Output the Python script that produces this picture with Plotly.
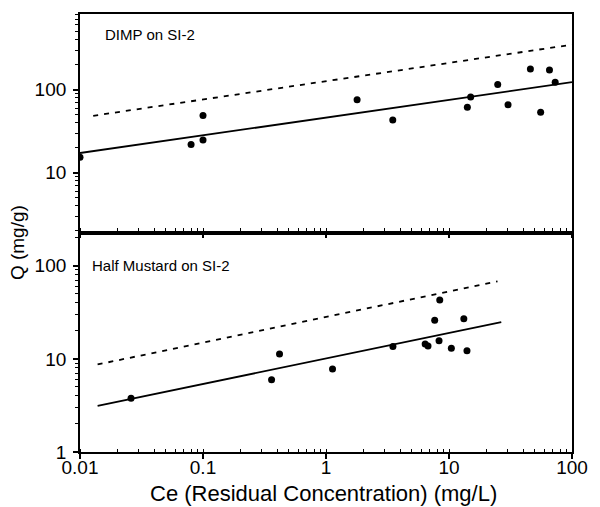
import plotly.graph_objects as go

# ---- data ----
dimp_ce = [0.01, 0.080, 0.100, 0.100, 1.79, 3.49, 14.1, 15.0, 24.9, 30.2, 45.9, 55.6, 65.6, 73.0]
dimp_q = [15.4, 21.9, 24.8, 48.9, 75.5, 43.2, 61.4, 81.8, 115, 65.9, 177, 53.6, 172, 123]
dimp_fit_ce = [0.01, 100]
dimp_fit_q = [17.3, 123]
dimp_dash_ce = [0.0128, 100]
dimp_dash_q = [48.5, 348]

hm_ce = [0.026, 0.361, 0.419, 1.13, 3.50, 6.4, 6.75, 7.65, 8.41, 8.3, 10.45, 13.2, 14.0]
hm_q = [3.78, 5.97, 11.3, 7.8, 13.6, 14.4, 13.7, 26, 42.8, 15.6, 13.0, 27, 12.2]
hm_fit_ce = [0.0139, 26.6]
hm_fit_q = [3.13, 24.8]
hm_dash_ce = [0.0139, 24.8]
hm_dash_q = [8.7, 68]

x_tickvals = [0.01, 0.1, 1, 10, 100]
x_ticktext = ["0.01", "0.1", "1", "10", "100"]
top_tickvals = [10, 100]
top_ticktext = ["10", "100"]
bot_tickvals = [1, 10, 100]
bot_ticktext = ["1", "10", "100"]

FONT = "Liberation Sans, Arial, sans-serif"
BLACK = "black"

fig = go.Figure()

# top panel
fig.add_trace(go.Scatter(x=dimp_dash_ce, y=dimp_dash_q, mode="lines",
                         line=dict(color=BLACK, width=1.8, dash="5px,6px"),
                         xaxis="x", yaxis="y", showlegend=False))
fig.add_trace(go.Scatter(x=dimp_fit_ce, y=dimp_fit_q, mode="lines",
                         line=dict(color=BLACK, width=1.8),
                         xaxis="x", yaxis="y", showlegend=False))
fig.add_trace(go.Scatter(x=dimp_ce, y=dimp_q, mode="markers",
                         marker=dict(color=BLACK, size=7),
                         xaxis="x", yaxis="y", showlegend=False))

# bottom panel
fig.add_trace(go.Scatter(x=hm_dash_ce, y=hm_dash_q, mode="lines",
                         line=dict(color=BLACK, width=1.8, dash="5px,6px"),
                         xaxis="x2", yaxis="y2", showlegend=False))
fig.add_trace(go.Scatter(x=hm_fit_ce, y=hm_fit_q, mode="lines",
                         line=dict(color=BLACK, width=1.8),
                         xaxis="x2", yaxis="y2", showlegend=False))
fig.add_trace(go.Scatter(x=hm_ce, y=hm_q, mode="markers",
                         marker=dict(color=BLACK, size=7),
                         xaxis="x2", yaxis="y2", showlegend=False))

common_x = dict(type="log", range=[-2, 2], tickvals=x_tickvals, ticktext=x_ticktext,
                showline=True, linecolor=BLACK, linewidth=1.8, mirror=True,
                ticks="outside", ticklen=5, tickwidth=1.5, tickcolor=BLACK,
                minor=dict(ticks="inside", ticklen=3, tickwidth=1, tickcolor=BLACK, dtick="D1"),
                showgrid=False, zeroline=False, ticklabelstandoff=-8,
                tickfont=dict(family=FONT, size=19, color=BLACK))
common_y = dict(type="log", showline=True, linecolor=BLACK, linewidth=1.8, mirror=True,
                ticks="outside", ticklen=5, tickwidth=1.5, tickcolor=BLACK,
                minor=dict(ticks="outside", ticklen=3, tickwidth=1, tickcolor=BLACK, dtick="D1"),
                showgrid=False, zeroline=False, ticklabelstandoff=3,
                tickfont=dict(family=FONT, size=19, color=BLACK))

fig.update_layout(
    width=600, height=507,
    margin=dict(l=80, r=21, t=12, b=55),
    paper_bgcolor="white", plot_bgcolor="white",
    xaxis=dict(**common_x, anchor="y", showticklabels=False),
    yaxis=dict(**common_y, domain=[0.5045, 1], anchor="x", range=[0.30, 2.91],
               tickvals=top_tickvals, ticktext=top_ticktext),
    xaxis2=dict(**common_x, anchor="y2", showticklabels=True),
    yaxis2=dict(**common_y, domain=[0, 0.4955], anchor="x2", range=[0, 2.33],
                tickvals=bot_tickvals, ticktext=bot_ticktext),
    annotations=[
        dict(text="DIMP on SI-2", xref="paper", yref="paper", x=0.046, y=0.953,
             xanchor="left", yanchor="middle", showarrow=False,
             font=dict(family=FONT, size=15, color=BLACK)),
        dict(text="Half Mustard on SI-2", xref="paper", yref="paper", x=0.020, y=0.425,
             xanchor="left", yanchor="middle", showarrow=False,
             font=dict(family=FONT, size=15, color=BLACK)),
        dict(text="Q (mg/g)", xref="paper", yref="paper", x=-0.128, y=0.477,
             xanchor="center", yanchor="middle", textangle=-90, showarrow=False,
             font=dict(family=FONT, size=19, color=BLACK)),
        dict(text="Ce (Residual Concentration) (mg/L)", xref="paper", yref="paper",
             x=0.494, y=-0.095, xanchor="center", yanchor="middle", showarrow=False,
             font=dict(family=FONT, size=22, color=BLACK)),
    ],
)

fig.write_html("out.html", config={"displayModeBar": False},
               post_script="document.body.style.margin='0px';document.body.style.overflow='hidden';")
